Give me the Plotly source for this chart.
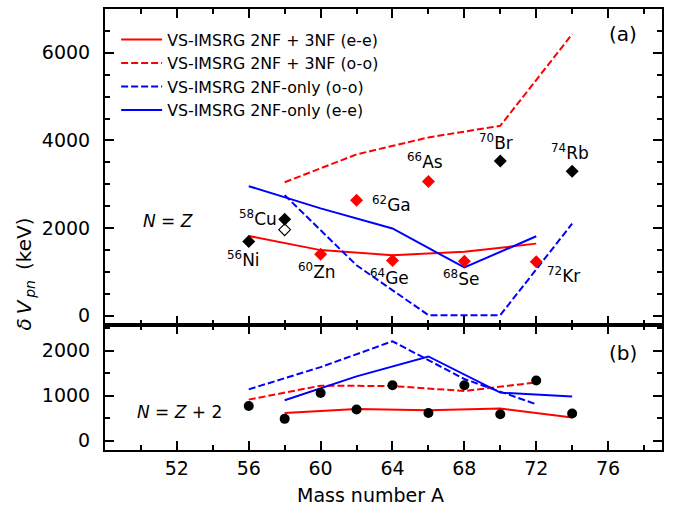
import plotly.graph_objects as go
from plotly.subplots import make_subplots

# ---------------- data ----------------
# (a) N = Z
A_ee_top = [56, 60, 64, 68, 72]
A_oo_top = [58, 62, 66, 70, 74]
top_3nf_ee = [1818, 1495, 1380, 1455, 1643]
top_3nf_oo = [3045, 3680, 4068, 4333, 6425]
top_2nf_oo = [2750, 1150, 10, 10, 2098]
top_2nf_ee = [2955, 2447, 1990, 1098, 1811]

exp_top_A = [56, 58, 60, 62, 64, 66, 68, 70, 72, 74]
exp_top_val = [1689, 2197, 1402, 2636, 1257, 3061, 1243, 3530, 1227, 3295]
exp_top_color = ["black", "black", "red", "red", "red", "red", "red", "black", "red", "black"]
exp_top_label = ["<sup>56</sup>Ni", "<sup>58</sup>Cu", "<sup>60</sup>Zn", "<sup>62</sup>Ga",
                 "<sup>64</sup>Ge", "<sup>66</sup>As", "<sup>68</sup>Se", "<sup>70</sup>Br",
                 "<sup>72</sup>Kr", "<sup>74</sup>Rb"]
open_A = [58]
open_val = [1961]

# (b) N = Z + 2
A_ee_bot = [58, 62, 66, 70, 74]
A_oo_bot = [56, 60, 64, 68, 72]
bot_3nf_ee = [618, 706, 678, 715, 516]
bot_3nf_oo = [913, 1222, 1214, 1104, 1295]
bot_2nf_oo = [1141, 1634, 2208, 1370, 810]
bot_2nf_ee = [898, 1428, 1870, 1068, 980]
exp_bot_A = [56, 58, 60, 62, 64, 66, 68, 70, 72, 74]
exp_bot_val = [773, 486, 1060, 693, 1232, 615, 1232, 589, 1336, 605]

x_tick_vals = [52, 56, 60, 64, 68, 72, 76]
y_top_ticks = [0, 2000, 4000, 6000]
y_bot_ticks = [0, 1000, 2000]

legend_names = ["VS-IMSRG 2NF + 3NF (e-e)", "VS-IMSRG 2NF + 3NF (o-o)",
                "VS-IMSRG 2NF-only (o-o)", "VS-IMSRG 2NF-only (e-e)"]

# label offsets (pixels) relative to each point
label_dx = [-5, -27, -4, 35, -3, -3, -3, -4, 27, -2]
label_dy = [-17, 1, -17, -4, -16, 21, -17, 19, -13, 19]

FONT = "DejaVu Sans"
dash = "7px,3px"

fig = make_subplots(rows=2, cols=1, shared_xaxes=True, vertical_spacing=0,
                    row_heights=[317, 126])

def add_line(x, y, color, dashed, name, row, show):
    fig.add_trace(go.Scatter(x=x, y=y, mode="lines", name=name, showlegend=show,
                             line=dict(color=color, width=2, dash=dash if dashed else "solid")),
                  row=row, col=1)

add_line(A_ee_top, top_3nf_ee, "red", False, legend_names[0], 1, True)
add_line(A_oo_top, top_3nf_oo, "red", True, legend_names[1], 1, True)
add_line(A_oo_top, top_2nf_oo, "blue", True, legend_names[2], 1, True)
add_line(A_ee_top, top_2nf_ee, "blue", False, legend_names[3], 1, True)

fig.add_trace(go.Scatter(x=exp_top_A, y=exp_top_val, mode="markers", showlegend=False,
                         marker=dict(symbol="diamond", size=10, color=exp_top_color,
                                     line=dict(width=0))), row=1, col=1)
fig.add_trace(go.Scatter(x=open_A, y=open_val, mode="markers", showlegend=False,
                         marker=dict(symbol="diamond-open", size=9, color="black",
                                     line=dict(width=1.2))), row=1, col=1)

add_line(A_ee_bot, bot_3nf_ee, "red", False, legend_names[0], 2, False)
add_line(A_oo_bot, bot_3nf_oo, "red", True, legend_names[1], 2, False)
add_line(A_oo_bot, bot_2nf_oo, "blue", True, legend_names[2], 2, False)
add_line(A_ee_bot, bot_2nf_ee, "blue", False, legend_names[3], 2, False)
fig.add_trace(go.Scatter(x=exp_bot_A, y=exp_bot_val, mode="markers", showlegend=False,
                         marker=dict(symbol="circle", size=10, color="black")), row=2, col=1)

for a, v, lab, dx, dy in zip(exp_top_A, exp_top_val, exp_top_label, label_dx, label_dy):
    fig.add_annotation(x=a, y=v, xref="x", yref="y", text=lab, showarrow=False,
                       xanchor="center", yanchor="middle",
                       xshift=dx, yshift=dy, font=dict(size=17, color="black", family=FONT))

axis_common = dict(showline=True, linewidth=2, linecolor="black", mirror="allticks",
                   ticks="inside", ticklen=9, tickwidth=1.5, tickcolor="black",
                   showgrid=False, zeroline=False,
                   tickfont=dict(size=19, color="black", family=FONT))

fig.update_xaxes(range=[48, 79], tickvals=x_tick_vals, ticklabelstandoff=0,
                 minor=dict(ticks="inside", ticklen=5, tickwidth=1.5, dtick=2, tick0=48,
                            tickcolor="black"),
                 **axis_common)
fig.update_xaxes(showticklabels=False, row=1, col=1)
fig.update_yaxes(range=[-205, 7000], tickvals=y_top_ticks, ticklabelstandoff=9,
                 minor=dict(ticks="inside", ticklen=5, tickwidth=1.5, dtick=500, tick0=0,
                            tickcolor="black"),
                 row=1, col=1, **axis_common)
fig.update_yaxes(range=[-205, 2578], tickvals=y_bot_ticks, ticklabelstandoff=9,
                 minor=dict(ticks="inside", ticklen=5, tickwidth=1.5, dtick=500, tick0=0,
                            tickcolor="black"),
                 row=2, col=1, **axis_common)

def paper_text(x, y, text, size, angle=0):
    fig.add_annotation(x=x, y=y, xref="paper", yref="paper", text=text, textangle=angle,
                       xanchor="center", yanchor="middle", showarrow=False,
                       font=dict(size=size, color="black", family=FONT))

paper_text(0.114, 0.519, "<i>N</i> = <i>Z</i>", 17)
paper_text(0.133, 0.086, "<i>N</i> = <i>Z</i> + 2", 17)
paper_text(0.93, 0.944, "(a)", 20)
paper_text(0.93, 0.219, "(b)", 20)
paper_text(-0.1436, 0.398, "<i>δ</i>\u2009<i>V</i><sub>\u2009<i>pn</i></sub>\u2002(keV)", 20, -90)
paper_text(0.476, -0.1016, "Mass number A", 19)

fig.update_layout(
    width=677, height=513,
    margin=dict(l=105, r=15, t=7, b=63),
    paper_bgcolor="white", plot_bgcolor="white",
    font=dict(family=FONT, color="black"),
    legend=dict(x=0.02, y=0.969, xanchor="left", yanchor="top",
                bgcolor="rgba(0,0,0,0)", borderwidth=0, itemwidth=41,
                font=dict(size=15.8, color="black", family=FONT),
                tracegroupgap=0),
)

fig.write_html("out.html", config={"displayModeBar": False},
               post_script="document.body.style.margin='0';")
